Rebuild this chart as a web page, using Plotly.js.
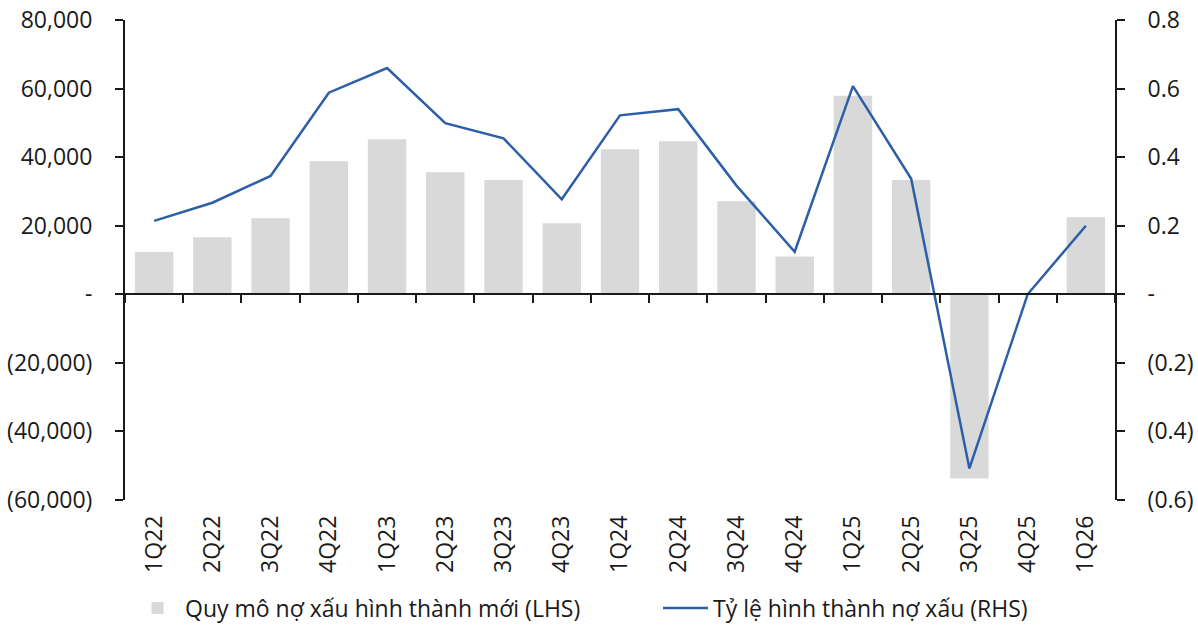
<!DOCTYPE html>
<html>
<head>
<meta charset="utf-8">
<script src="https://cdn.plot.ly/plotly-3.0.1.min.js"></script>
<style>
  html, body { margin: 0; padding: 0; background: #fff; }
  #chart { width: 1198px; height: 630px; }
</style>
</head>
<body>
<div id="chart"></div>
<script>
const quarters = ["1Q22", "2Q22", "3Q22", "4Q22", "1Q23", "2Q23", "3Q23", "4Q23", "1Q24", "2Q24", "3Q24", "4Q24", "1Q25", "2Q25", "3Q25", "4Q25", "1Q26"];
const newNpl = [12300, 16600, 22200, 38800, 45200, 35600, 33300, 20700, 42300, 44600, 27100, 11000, 57900, 33300, -53700, null, 22500];
const nplRate = [0.214, 0.267, 0.345, 0.588, 0.660, 0.499, 0.455, 0.277, 0.522, 0.540, 0.317, 0.124, 0.607, 0.337, -0.508, 0.0, 0.200];

const leftTicks = [80000, 60000, 40000, 20000, 0, -20000, -40000, -60000];
const leftLabels = ["80,000", "60,000", "40,000", "20,000", "-", "(20,000)", "(40,000)", "(60,000)"];
const rightTicks = [0.8, 0.6, 0.4, 0.2, 0, -0.2, -0.4, -0.6];
const rightLabels = ["0.8", "0.6", "0.4", "0.2", "-", "(0.2)", "(0.4)", "(0.6)"];

const ink = "#1a1a1a";
const font = { family: "Open Sans, Noto Sans, sans-serif", size: 23, color: ink };
const xRange = [-0.5, quarters.length - 0.5];

const traces = [
  {
    x: quarters, y: newNpl, type: "bar", name: "Quy mô nợ xấu hình thành mới (LHS)",
    marker: { color: "#d9d9d9" }, xaxis: "x", yaxis: "y", hoverinfo: "x+y", legend: "legend"
  },
  {
    x: quarters, y: nplRate, type: "scatter", mode: "lines", name: "Tỷ lệ hình thành nợ xấu (RHS)",
    line: { color: "#2d5fa8", width: 2.5 }, xaxis: "x2", yaxis: "y2", legend: "legend2"
  }
];

const legendBase = {
  orientation: "h", xref: "container", y: 0.035, yref: "container", yanchor: "middle",
  font: { ...font, size: 23 }, itemwidth: 45
};

const layout = {
  width: 1198, height: 630,
  margin: { l: 125, r: 83, t: 20, b: 130 },
  paper_bgcolor: "#fff", plot_bgcolor: "#fff",
  font: font,
  bargap: 0.34,
  showlegend: true,
  legend: { ...legendBase, x: 130 / 1198 },
  legend2: { ...legendBase, x: 658 / 1198 },
  xaxis: {
    type: "category", range: xRange, showline: false, showgrid: false, zeroline: false,
    ticks: "", tickangle: -90, tickfont: font, ticklabelstandoff: 10
  },
  xaxis2: {
    type: "category", range: xRange, overlaying: "x", anchor: "free", position: 60 / 140,
    showline: true, linecolor: ink, linewidth: 2, showgrid: false, zeroline: false,
    ticks: "outside", tickson: "boundaries", ticklen: 8, tickwidth: 2, tickcolor: ink,
    showticklabels: false
  },
  yaxis: {
    range: [-60000, 80000], tickvals: leftTicks, ticktext: leftLabels,
    showline: true, linecolor: ink, linewidth: 2, ticks: "outside", ticklen: 8, tickwidth: 2, tickcolor: ink,
    showgrid: false, zeroline: false, tickfont: font, ticklabelstandoff: 18
  },
  yaxis2: {
    range: [-0.6, 0.8], tickvals: rightTicks, ticktext: rightLabels, overlaying: "y", side: "right",
    showline: true, linecolor: ink, linewidth: 2, ticks: "outside", ticklen: 8, tickwidth: 2, tickcolor: ink,
    showgrid: false, zeroline: false, tickfont: font, ticklabelstandoff: 18
  }
};

Plotly.newPlot("chart", traces, layout, { displayModeBar: false, responsive: false });
</script>
</body>
</html>
